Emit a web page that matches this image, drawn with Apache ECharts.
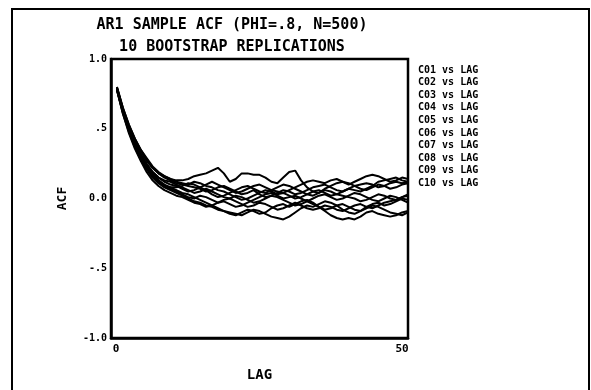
<!DOCTYPE html>
<html>
<head>
<meta charset="utf-8">
<script src="https://cdn.jsdelivr.net/npm/echarts@6/dist/echarts.min.js"></script>
<style>
html,body{margin:0;padding:0;background:#fff;}
#c{width:591px;height:390px;}
</style>
</head>
<body>
<div id="c"></div>
<script>
var titleLines = ['AR1 SAMPLE ACF (PHI=.8, N=500)', '10 BOOTSTRAP REPLICATIONS'];
var xTicks = [0, 50];
var yTicks = [-1.0, -0.5, 0.0, 0.5, 1.0];
var yTickLabels = ['-1.0', '-.5', '0.0', '.5', '1.0'];
var lags = [];
for (var k = 1; k <= 50; k++) lags.push(k);
var seriesNames = ['C01 vs LAG','C02 vs LAG','C03 vs LAG','C04 vs LAG','C05 vs LAG','C06 vs LAG','C07 vs LAG','C08 vs LAG','C09 vs LAG','C10 vs LAG'];

var c01 = [.79,.64,.52,.42,.34,.27,.22,.18,.16,.14, .13,.13,.14,.16,.17,.18,.20,.22,.18,.12, .14,.18,.18,.17,.17,.15,.12,.11,.15,.19, .20,.13,.08,.05,.04,.06,.05,.03,.02,.01, .00,-.02,-.01,.01,.03,.02,.00,-.01,.01,.03];
var c02 = [.78,.62,.49,.39,.31,.24,.19,.15,.12,.10, .09,.07,.05,.06,.08,.10,.12,.10,.08,.06, .04,.05,.07,.09,.10,.08,.06,.05,.04,.06, .08,.10,.12,.13,.12,.11,.13,.14,.12,.10, .12,.14,.16,.17,.16,.14,.12,.13,.15,.14];
var c03 = [.78,.61,.48,.37,.28,.21,.15,.11,.08,.06, .04,.02,.00,-.02,-.03,-.05,-.06,-.08,-.09,-.11, -.12,-.10,-.08,-.09,-.11,-.10,-.07,-.05,-.04,-.06, -.04,-.02,-.01,-.03,-.06,-.09,-.12,-.14,-.15,-.14, -.15,-.13,-.10,-.09,-.11,-.12,-.13,-.12,-.10,-.09];
var c04 = [.79,.63,.50,.39,.30,.23,.17,.13,.10,.08, .06,.04,.03,.01,-.01,-.03,-.05,-.07,-.09,-.10, -.11,-.12,-.10,-.08,-.09,-.11,-.13,-.14,-.15,-.13, -.10,-.07,-.05,-.06,-.04,-.02,-.03,-.05,-.04,-.06, -.08,-.09,-.07,-.05,-.06,-.08,-.10,-.11,-.12,-.10];
var c05 = [.80,.65,.53,.43,.35,.28,.22,.18,.15,.13, .11,.10,.09,.08,.07,.05,.06,.08,.09,.07, .05,.03,.04,.06,.03,.01,.02,.04,.06,.05, .03,.04,.06,.08,.09,.10,.08,.06,.05,.07, .09,.10,.11,.10,.08,.09,.11,.12,.11,.12];
var c06 = [.79,.63,.50,.40,.32,.25,.19,.15,.13,.12, .10,.08,.06,.04,.05,.07,.05,.03,.01,.00, .02,.01,-.01,-.03,-.02,.00,.02,.01,-.01,-.03, -.05,-.04,-.02,.00,.02,.03,.01,-.01,.00,.02, .04,.03,.01,-.01,-.02,.00,.02,.01,-.01,-.03];
var c07 = [.78,.62,.49,.38,.29,.22,.16,.12,.09,.08, .08,.09,.11,.10,.08,.06,.03,.01,.02,.04, .06,.08,.09,.07,.05,.04,.06,.08,.10,.09, .07,.05,.03,.02,.04,.07,.09,.11,.12,.11, .09,.07,.06,.08,.10,.09,.07,.08,.10,.11];
var c08 = [.79,.64,.51,.40,.31,.24,.18,.13,.09,.07, .05,.03,.01,.00,.02,.01,-.01,-.03,-.02,-.04, -.06,-.05,-.03,-.01,.01,.03,.04,.02,.00,.01, .02,.00,-.02,-.04,-.06,-.08,-.07,-.05,-.08,-.10, -.11,-.09,-.06,-.04,-.03,-.05,-.04,-.02,.00,-.01];
var c09 = [.80,.65,.53,.43,.35,.29,.23,.19,.16,.14, .12,.11,.10,.12,.11,.09,.08,.06,.05,.03, .01,-.01,.00,.02,.04,.06,.05,.03,.04,.02, .00,.01,.03,.05,.06,.04,.02,.03,.05,.07, .06,.05,.07,.09,.12,.13,.14,.15,.13,.12];
var c10 = [.78,.61,.47,.36,.27,.19,.13,.09,.06,.04, .02,.01,-.01,-.03,-.04,-.06,-.05,-.03,-.01,.00, -.02,-.04,-.06,-.05,-.03,-.04,-.06,-.08,-.07,-.05, -.03,-.05,-.07,-.08,-.07,-.05,-.06,-.08,-.09,-.07, -.05,-.04,-.06,-.07,-.05,-.03,-.02,-.01,.01,.02];
var allSeries = [c01,c02,c03,c04,c05,c06,c07,c08,c09,c10];

var FONT = 'DejaVu Sans Mono';
var chart = echarts.init(document.getElementById('c'));
var series = allSeries.map(function (vals, i) {
  return {
    name: seriesNames[i],
    type: 'line',
    data: lags.map(function (l, j) { return [l, vals[j]]; }),
    showSymbol: false,
    symbol: 'none',
    lineStyle: { color: '#000', width: 2 },
    itemStyle: { color: '#000' },
    animation: false
  };
});

chart.setOption({
  animation: false,
  backgroundColor: '#fff',
  title: [
    { text: titleLines[0], left: 227, top: 13, textAlign: 'center',
      textStyle: { fontFamily: FONT, fontWeight: 'bold', fontSize: 15, color: '#000' } },
    { text: titleLines[1], left: 227, top: 35, textAlign: 'center',
      textStyle: { fontFamily: FONT, fontWeight: 'bold', fontSize: 15, color: '#000' } }
  ],
  legend: {
    orient: 'vertical', left: 408, top: 60, itemGap: 2.6,
    icon: 'none', itemWidth: 0, itemHeight: 10,
    selectedMode: false,
    data: seriesNames,
    textStyle: { fontFamily: FONT, fontWeight: 'bold', fontSize: 10, color: '#000' }
  },
  graphic: [
    { type: 'rect', shape: { x: 12, y: 9, width: 577, height: 400 },
      style: { fill: 'none', stroke: '#000', lineWidth: 2 }, silent: true }
  ],
  grid: { left: 111, right: 183, top: 59, bottom: 52, show: true, borderColor: '#000', borderWidth: 2.5, backgroundColor: 'transparent' },
  xAxis: {
    type: 'value', min: 0, max: 50, interval: 50,
    name: 'LAG', nameLocation: 'middle', nameGap: 30,
    nameTextStyle: { fontFamily: FONT, fontWeight: 'bold', fontSize: 14, color: '#000' },
    axisLine: { show: true, onZero: false, lineStyle: { color: '#000', width: 2.5 } },
    axisTick: { show: false },
    splitLine: { show: false },
    axisLabel: {
      margin: 6, color: '#000',
      formatter: function (v) { return v === xTicks[0] ? '{l|' + v + '}' : '{r|' + v + '}'; },
      rich: {
        l: { fontFamily: FONT, fontWeight: 'bold', fontSize: 11, color: '#000', padding: [0, 0, 0, 10] },
        r: { fontFamily: FONT, fontWeight: 'bold', fontSize: 11, color: '#000', padding: [0, 12, 0, 0] }
      }
    }
  },
  yAxis: {
    type: 'value', min: -1, max: 1, interval: 0.5,
    name: 'ACF', nameLocation: 'middle', nameGap: 42, nameRotate: 90,
    nameTextStyle: { fontFamily: FONT, fontWeight: 'bold', fontSize: 13, color: '#000' },
    axisLine: { show: true, onZero: false, lineStyle: { color: '#000', width: 2.5 } },
    axisTick: { show: false },
    splitLine: { show: false },
    axisLabel: {
      margin: 4, fontFamily: FONT, fontWeight: 'bold', fontSize: 10, color: '#000',
      formatter: function (v) {
        for (var i = 0; i < yTicks.length; i++) if (Math.abs(yTicks[i] - v) < 1e-9) return yTickLabels[i];
        return '';
      }
    }
  },
  series: series
});
</script>
</body>
</html>
